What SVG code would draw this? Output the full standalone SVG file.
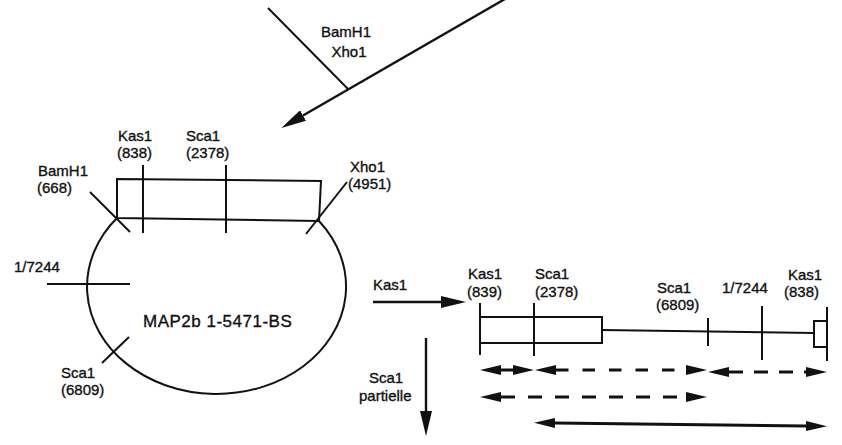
<svg xmlns="http://www.w3.org/2000/svg" width="842" height="445" viewBox="0 0 842 445">
<defs>
<style>
text{font-family:"Liberation Sans",Arial,sans-serif;font-size:15px;fill:#111;stroke:#111;stroke-width:0.35;}
.big{font-size:17px;letter-spacing:0.5px;}
.ln{stroke:#111;stroke-width:2;fill:none;}
.ar{stroke:#111;stroke-width:2.4;fill:none;}
.da{stroke:#111;stroke-width:3;fill:none;}
</style>
<marker id="ah" markerUnits="userSpaceOnUse" viewBox="0 0 21 10" refX="0" refY="5" markerWidth="21" markerHeight="10" orient="auto-start-reverse">
<path d="M0,0 L21,5 L0,10 z" fill="#111"/>
</marker>
<marker id="ahb" markerUnits="userSpaceOnUse" viewBox="0 0 25 12" refX="0" refY="6" markerWidth="25" markerHeight="12" orient="auto">
<path d="M0,0 L25,6 L0,12 z" fill="#111"/>
</marker>
</defs>
<rect width="842" height="445" fill="#fff"/>

<g id="insert">
<line class="ln" x1="268" y1="8" x2="348" y2="89"/>
<text x="346" y="37" text-anchor="middle">BamH1</text>
<text x="349" y="57" text-anchor="middle">Xho1</text>
</g>

<g id="plasmid">
<polygon class="ln" points="117,179 321,181 319,221 117,218"/>
<path class="ln" d="M117,218 A129.5,107.3 0 1 0 319,221"/>
<line class="ln" x1="143" y1="165" x2="143" y2="233"/>
<line class="ln" x1="226" y1="165" x2="226" y2="233"/>
<line class="ln" x1="90" y1="192" x2="130" y2="232"/>
<line class="ln" x1="347" y1="182" x2="306" y2="234"/>
<line class="ln" x1="47" y1="284" x2="130" y2="284"/>
<line class="ln" x1="102" y1="363" x2="129" y2="337"/>
<text x="118" y="141">Kas1</text>
<text x="117" y="158">(838)</text>
<text x="186" y="141">Sca1</text>
<text x="186" y="158">(2378)</text>
<text x="38" y="176">BamH1</text>
<text x="37" y="193">(668)</text>
<text x="350" y="172">Xho1</text>
<text x="348" y="189">(4951)</text>
<text x="14" y="272">1/7244</text>
<text class="big" x="143" y="327">MAP2b 1-5471-BS</text>
<text x="61" y="378">Sca1</text>
<text x="61" y="395">(6809)</text>
</g>

<g id="linear-map">
<rect class="ln" x="480" y="317" width="122" height="26"/>
<line class="ln" x1="602" y1="330" x2="814" y2="333"/>
<rect class="ln" x="814" y="321" width="13" height="26"/>
<line class="ln" x1="480" y1="303" x2="480" y2="355"/>
<line class="ln" x1="534" y1="303" x2="534" y2="356"/>
<line class="ln" x1="708" y1="318" x2="708" y2="346"/>
<line class="ln" x1="762" y1="306" x2="762" y2="360"/>
<line class="ln" x1="827" y1="307" x2="827" y2="361"/>
<text x="468" y="279">Kas1</text>
<text x="467" y="297">(839)</text>
<text x="535" y="279">Sca1</text>
<text x="535" y="297">(2378)</text>
<text x="657" y="293">Sca1</text>
<text x="656" y="310">(6809)</text>
<text x="722" y="293">1/7244</text>
<text x="788" y="280">Kas1</text>
<text x="784" y="297">(838)</text>
</g>

<g id="labels">
<text x="373" y="290">Kas1</text>
<text x="369" y="383">Sca1</text>
<text x="359" y="401">partielle</text>
</g>

<g id="connectors">
<line class="ar" x1="505" y1="-1" x2="303" y2="115.5" marker-end="url(#ahb)"/>
<line class="ar" x1="373" y1="302" x2="441" y2="302" marker-end="url(#ahb)"/>
<line class="ar" x1="426" y1="338" x2="426" y2="411" marker-end="url(#ahb)"/>
<line class="da" x1="501" y1="370" x2="513" y2="370" marker-start="url(#ah)" marker-end="url(#ah)"/>
<line class="da" x1="556" y1="370" x2="686" y2="370" stroke-dasharray="12.5 14" marker-start="url(#ah)" marker-end="url(#ah)"/>
<line class="da" x1="729" y1="372" x2="806" y2="372" stroke-dasharray="14 11" marker-start="url(#ah)" marker-end="url(#ah)"/>
<line class="da" x1="501" y1="397" x2="686" y2="397" stroke-dasharray="14 13" marker-start="url(#ah)" marker-end="url(#ah)"/>
<line class="da" x1="555" y1="423" x2="806" y2="426" marker-start="url(#ah)" marker-end="url(#ah)"/>
</g>
</svg>
